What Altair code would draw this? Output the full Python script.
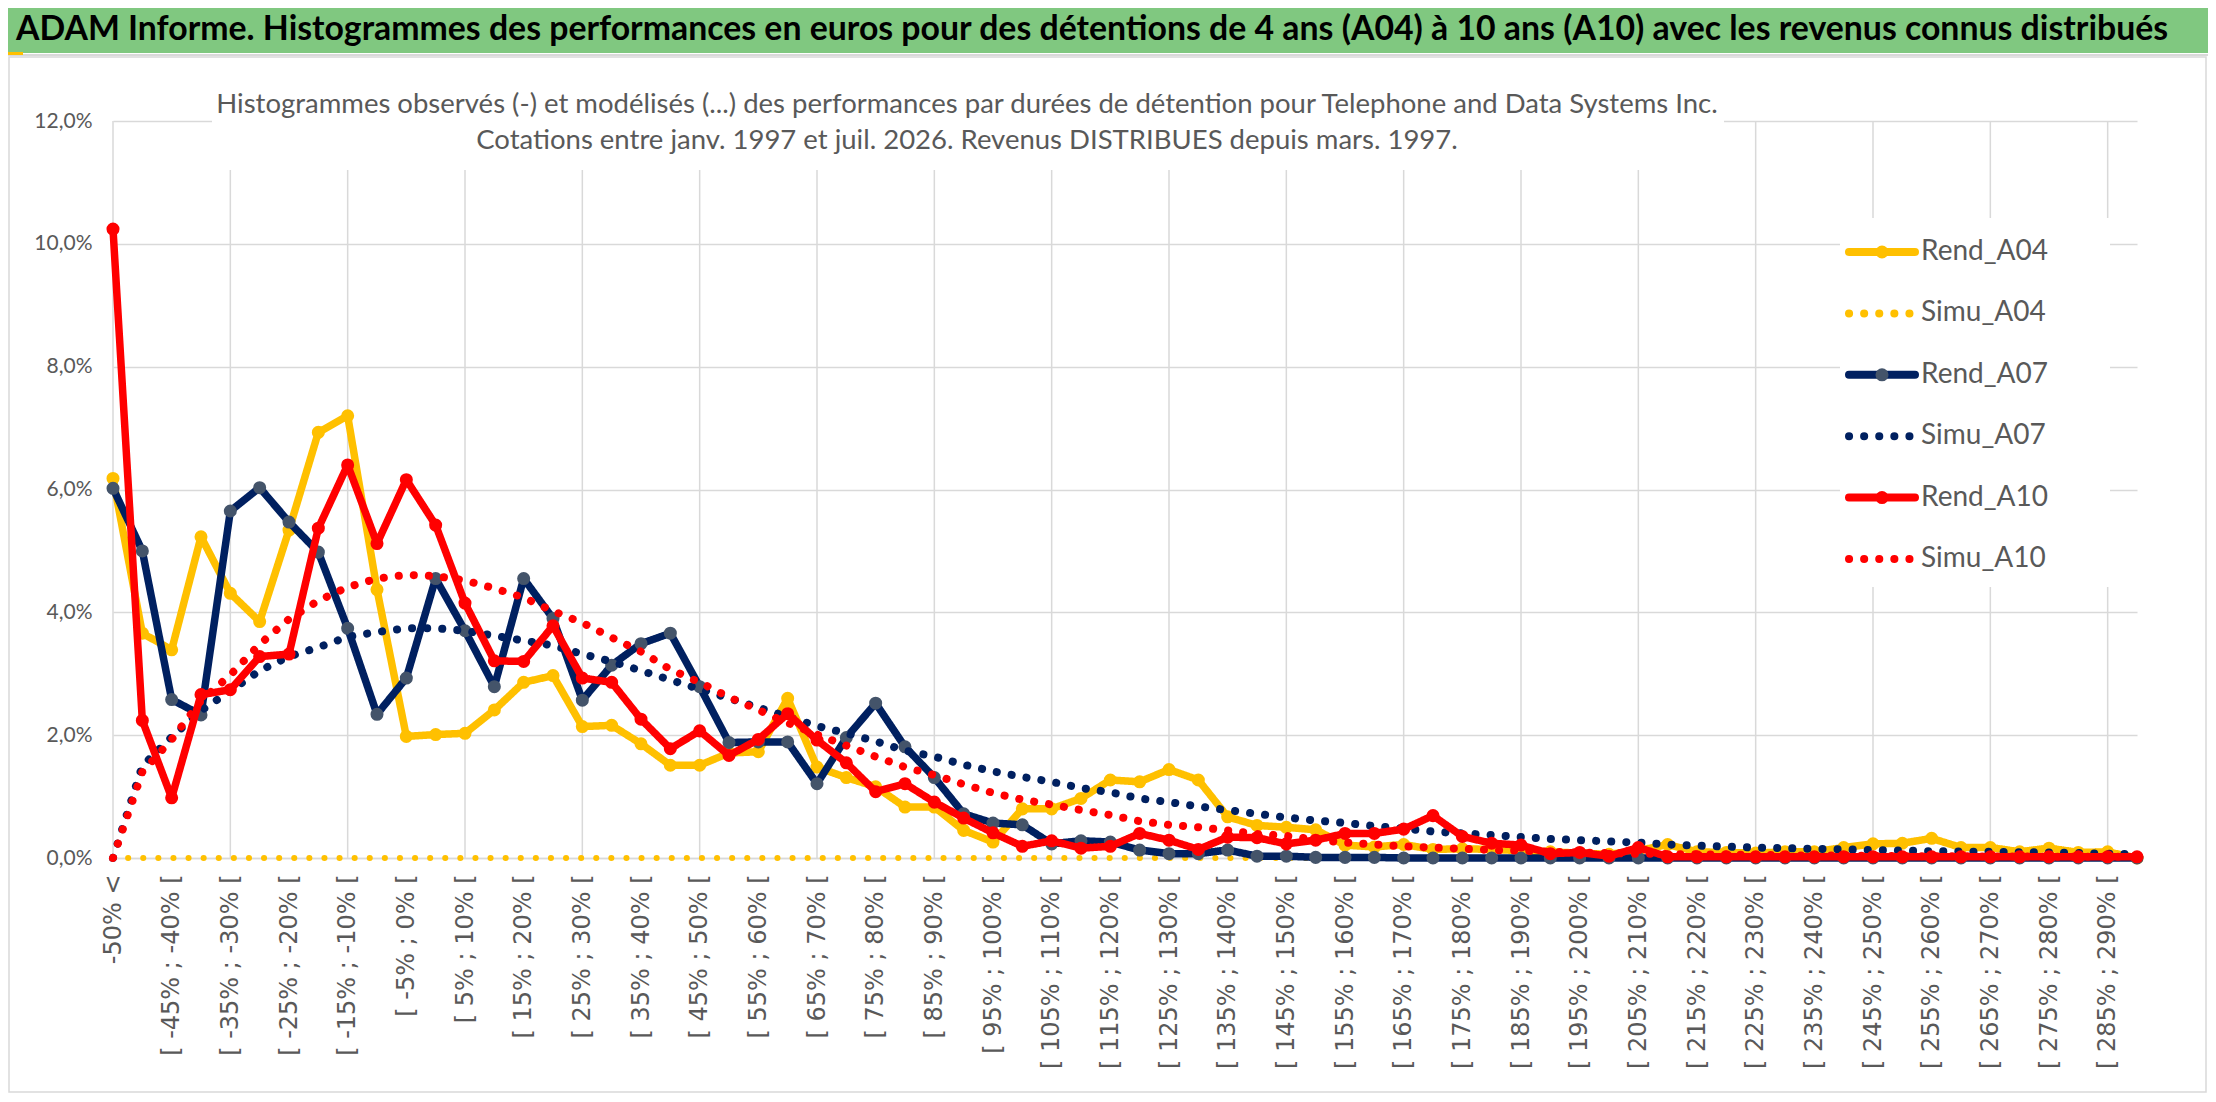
import altair as alt
import pandas as pd

TITLE = "ADAM Informe. Histogrammes des performances en euros pour des détentions de 4 ans (A04) à 10 ans (A10) avec les revenus connus distribués"
SUBTITLE_1 = "Histogrammes observés (-) et modélisés (...) des performances par durées de détention pour Telephone and Data Systems Inc."
SUBTITLE_2 = "Cotations entre janv. 1997 et juil. 2026. Revenus DISTRIBUES depuis mars. 1997."

# category labels (5% bins)
categories = ["-50% <"] + [f"[ {a}% ; {a + 5}% [" for a in range(-50, 295, 5)]

y_ticks = [0, 2, 4, 6, 8, 10, 12]

# values in %
rend_a04 = [6.18, 3.66, 3.39, 5.23, 4.31, 3.85, 5.34, 6.93, 7.20, 4.37,
            1.98, 2.01, 2.03, 2.41, 2.86, 2.97, 2.14, 2.16, 1.86, 1.51,
            1.51, 1.71, 1.73, 2.60, 1.48, 1.31, 1.16, 0.83, 0.83, 0.45,
            0.26, 0.80, 0.80, 0.97, 1.27, 1.24, 1.44, 1.27, 0.67, 0.53,
            0.50, 0.46, 0.21, 0.18, 0.22, 0.14, 0.15, 0.14, 0.12, 0.10,
            0.08, 0.06, 0.12, 0.22, 0.10, 0.09, 0.08, 0.10, 0.10, 0.17,
            0.23, 0.24, 0.32, 0.17, 0.17, 0.10, 0.16, 0.09, 0.10, 0.00]
simu_a04 = [0.00, 0.00, 0.00, 0.00, 0.00, 0.00, 0.00, 0.00, 0.00, 0.00,
            0.00, 0.00, 0.00, 0.00, 0.00, 0.00, 0.00, 0.00, 0.00, 0.00,
            0.00, 0.00, 0.00, 0.00, 0.00, 0.00, 0.00, 0.00, 0.00, 0.00,
            0.00, 0.00, 0.00, 0.00, 0.00, 0.00, 0.00, 0.00, 0.00, 0.00,
            0.00, 0.00, 0.00, 0.00, 0.00, 0.00, 0.00, 0.00, 0.00, 0.00,
            0.00, 0.00, 0.00, 0.00, 0.00, 0.00, 0.00, 0.00, 0.00, 0.00,
            0.00, 0.00, 0.00, 0.00, 0.00, 0.00, 0.00, 0.00, 0.00, 0.00]
rend_a07 = [6.02, 5.00, 2.58, 2.33, 5.65, 6.03, 5.47, 4.98, 3.74, 2.34,
            2.93, 4.55, 3.70, 2.79, 4.55, 3.90, 2.57, 3.14, 3.49, 3.66,
            2.79, 1.88, 1.89, 1.89, 1.21, 1.96, 2.52, 1.81, 1.31, 0.72,
            0.57, 0.54, 0.23, 0.28, 0.26, 0.13, 0.07, 0.07, 0.13, 0.03,
            0.03, 0.01, 0.01, 0.01, 0.00, 0.00, 0.00, 0.00, 0.00, 0.00,
            0.00, 0.00, 0.00, 0.00, 0.00, 0.00, 0.00, 0.00, 0.00, 0.00,
            0.00, 0.00, 0.00, 0.00, 0.00, 0.00, 0.00, 0.00, 0.00, 0.00]
simu_a07 = [0.00, 1.50, 1.97, 2.40, 2.72, 3.05, 3.28, 3.43, 3.60, 3.68,
            3.74, 3.74, 3.70, 3.62, 3.54, 3.46, 3.32, 3.20, 3.05, 2.90,
            2.75, 2.60, 2.45, 2.30, 2.15, 2.03, 1.90, 1.75, 1.65, 1.52,
            1.41, 1.32, 1.24, 1.14, 1.07, 0.97, 0.91, 0.84, 0.78, 0.72,
            0.66, 0.61, 0.57, 0.52, 0.48, 0.43, 0.40, 0.375, 0.34, 0.31,
            0.29, 0.27, 0.25, 0.22, 0.20, 0.185, 0.17, 0.16, 0.15, 0.14,
            0.13, 0.12, 0.11, 0.105, 0.10, 0.095, 0.09, 0.08, 0.07, 0.06]
rend_a10 = [10.24, 2.24, 0.98, 2.66, 2.74, 3.28, 3.32, 5.37, 6.40, 5.12,
            6.16, 5.42, 4.15, 3.21, 3.20, 3.78, 2.93, 2.86, 2.26, 1.78,
            2.07, 1.67, 1.93, 2.35, 1.92, 1.55, 1.08, 1.21, 0.91, 0.65,
            0.41, 0.19, 0.28, 0.16, 0.19, 0.40, 0.29, 0.14, 0.34, 0.33,
            0.23, 0.29, 0.40, 0.40, 0.47, 0.69, 0.35, 0.24, 0.21, 0.07,
            0.09, 0.03, 0.17, 0.02, 0.02, 0.02, 0.02, 0.02, 0.02, 0.02,
            0.02, 0.02, 0.02, 0.02, 0.02, 0.02, 0.02, 0.02, 0.02, 0.02]
simu_a10 = [0.00, 1.40, 1.93, 2.56, 2.98, 3.48, 3.89, 4.19, 4.41, 4.55,
            4.61, 4.59, 4.52, 4.39, 4.24, 4.02, 3.83, 3.59, 3.36, 3.07,
            2.86, 2.62, 2.41, 2.20, 2.01, 1.83, 1.65, 1.48, 1.35, 1.20,
            1.06, 0.95, 0.87, 0.78, 0.70, 0.60, 0.54, 0.50, 0.45, 0.39,
            0.36, 0.30, 0.25, 0.22, 0.19, 0.17, 0.15, 0.13, 0.12, 0.10,
            0.09, 0.08, 0.07, 0.065, 0.06, 0.055, 0.05, 0.045, 0.04, 0.04,
            0.035, 0.03, 0.03, 0.03, 0.025, 0.025, 0.02, 0.02, 0.02, 0.02]

series_names = ["Rend_A04", "Simu_A04", "Rend_A07", "Simu_A07", "Rend_A10", "Simu_A10"]
series_values = [rend_a04, simu_a04, rend_a07, simu_a07, rend_a10, simu_a10]
line_colors = ["#FFC000", "#FFC000", "#002060", "#002060", "#FF0000", "#FF0000"]
marker_colors = {"Rend_A04": "#FFC000", "Rend_A07": "#44546A", "Rend_A10": "#FF0000"}
SOLID = [1, 0]
DOTS = [0.1, 15]
line_dashes = [SOLID, DOTS, SOLID, DOTS, SOLID, DOTS]

rows = []
for name, vals in zip(series_names, series_values):
    for i, (c, v) in enumerate(zip(categories, vals)):
        rows.append({"cat": c, "idx": i, "series": name, "value": v})
df = pd.DataFrame(rows)

W, H = 2024, 737
GRID = "#D9D9D9"
TXT = "#595959"

x_enc = alt.X(
    "cat:N",
    scale=alt.Scale(domain=categories, type="point", padding=0),
    axis=alt.Axis(
        values=categories[::2], title=None, grid=False, ticks=False,
        labelAngle=-90, labelPadding=16, labelFont="DejaVu Sans",
        labelFontSize=24, labelColor=TXT, labelOverlap=False,
        labelLimit=400, labelBound=False, domainColor=GRID, domainWidth=1.5,
    ),
)
y_enc = alt.Y(
    "value:Q",
    scale=alt.Scale(domain=[0, 12], nice=False),
    axis=alt.Axis(
        values=y_ticks, title=None, grid=True, gridColor=GRID, gridWidth=1.5,
        ticks=False, domain=False, labelPadding=21, labelFont="Lato",
        labelFontSize=21, labelColor=TXT,
        labelExpr="replace(format(datum.value, '.1f'), '.', ',') + '%'",
    ),
)

one = alt.Data(values=[{"k": 0}])

# vertical gridlines every 4 categories
grid_df = pd.DataFrame({"cat": categories[::4]})
vgrid = alt.Chart(grid_df).mark_rule(color=GRID, strokeWidth=1.5).encode(
    x=x_enc, y=alt.datum(0), y2=alt.datum(12)
)

# decorations
green_bar = alt.Chart(one).mark_rect(color="#80C880").encode(
    x=alt.value(-105), x2=alt.value(2095), y=alt.value(-113), y2=alt.value(-68)
)
under_line = alt.Chart(one).mark_rule(color=GRID, strokeWidth=2).encode(
    x=alt.value(-105), x2=alt.value(2095), y=alt.value(-66)
)
gold_tab = alt.Chart(one).mark_rect(color="#FFC000").encode(
    x=alt.value(-105), x2=alt.value(-90), y=alt.value(-69), y2=alt.value(-66)
)
border = alt.Chart(one).mark_rect(fill=None, stroke=GRID, strokeWidth=1.5).encode(
    x=alt.value(-104), x2=alt.value(2093), y=alt.value(-64), y2=alt.value(971)
)
title_cover = alt.Chart(one).mark_rect(color="white").encode(
    x=alt.value(99), x2=alt.value(1611), y=alt.value(-3), y2=alt.value(49)
)
legend_cover = alt.Chart(one).mark_rect(color="white").encode(
    x=alt.value(1727), x2=alt.value(1997), y=alt.value(97), y2=alt.value(466)
)
title_txt = alt.Chart(one).mark_text(
    font="Lato", fontSize=33.8, fontWeight="bold", color="black", align="left", baseline="alphabetic"
).encode(x=alt.value(-97), y=alt.value(-81), text=alt.value(TITLE))
sub1 = alt.Chart(one).mark_text(
    font="Lato", fontSize=27.5, color=TXT, align="center", baseline="alphabetic"
).encode(x=alt.value(854), y=alt.value(-8), text=alt.value(SUBTITLE_1))
sub2 = alt.Chart(one).mark_text(
    font="Lato", fontSize=27.5, color=TXT, align="center", baseline="alphabetic"
).encode(x=alt.value(854), y=alt.value(28), text=alt.value(SUBTITLE_2))

# data layers
data_layers = []
for name, color, dash in zip(series_names, line_colors, line_dashes):
    base = alt.Chart(df).transform_filter(alt.datum.series == name)
    is_rend = name.startswith("Rend")
    width = 7.5 if is_rend else (6 if name == "Simu_A04" else 8)
    data_layers.append(
        base.mark_line(color=color, strokeWidth=width, strokeCap="round",
                       strokeJoin="round", strokeDash=dash).encode(
            x=x_enc, y=y_enc, order=alt.Order("idx:Q")
        )
    )
    if is_rend:
        data_layers.append(
            base.mark_circle(size=170, opacity=1, color=marker_colors[name]).encode(
                x=x_enc, y=y_enc
            )
        )

main = alt.layer(vgrid, title_cover, legend_cover, *data_layers)

# custom legend
leg_df = pd.DataFrame({"series": series_names})
leg_y = alt.Y("series:N", scale=alt.Scale(domain=series_names, range=[131, 438], type="point", padding=0), axis=None)
leg_color = alt.Color("series:N", scale=alt.Scale(domain=series_names, range=line_colors), legend=None)
leg_dash = alt.StrokeDash("series:N", scale=alt.Scale(domain=series_names, range=line_dashes), legend=None)
leg_line = alt.Chart(leg_df).mark_rule(strokeWidth=8, strokeCap="round").encode(
    x=alt.value(1736), x2=alt.value(1802), y=leg_y, color=leg_color, strokeDash=leg_dash
)
leg_pts = alt.Chart(leg_df).transform_filter(
    "indexof(datum.series, 'Rend') == 0"
).mark_circle(size=170, opacity=1).encode(
    x=alt.value(1769), y=leg_y,
    fill=alt.Fill("series:N", scale=alt.Scale(domain=list(marker_colors.keys()), range=list(marker_colors.values())), legend=None),
)
leg_txt = alt.Chart(leg_df).mark_text(
    font="Lato", fontSize=28, color=TXT, align="left", baseline="middle"
).encode(x=alt.value(1808), y=leg_y, text="series:N")
legend = alt.layer(leg_line, leg_pts, leg_txt)

chart = alt.layer(
    main, legend, green_bar, under_line, gold_tab, border, title_txt, sub1, sub2
).resolve_scale(y="independent", color="independent").properties(
    width=W, height=H,
    padding={"left": 105, "top": 113, "right": 71, "bottom": 236},
    autosize=alt.AutoSizeParams(type="none"),
    background="white",
).configure_view(stroke=None)

chart.save("out.html", embed_options={"renderer": "svg", "actions": False})
